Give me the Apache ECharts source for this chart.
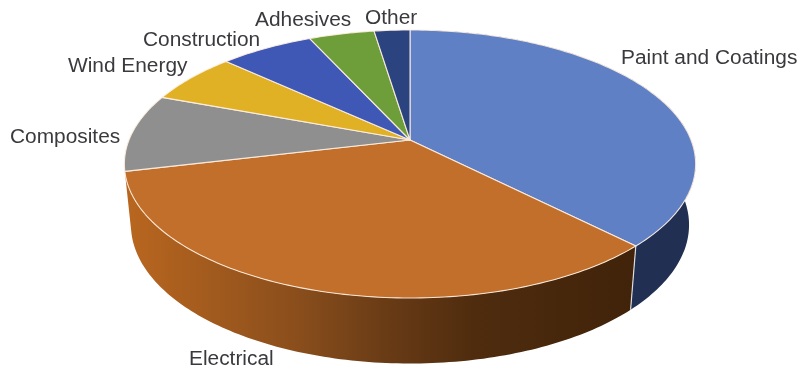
<!DOCTYPE html>
<html><head><meta charset="utf-8">
<style>html,body{margin:0;padding:0;background:#fff}#c{width:797px;height:370px;filter:blur(0.45px)}</style>
<script src="https://cdn.jsdelivr.net/npm/echarts@6/dist/echarts.min.js"></script>
</head><body><div id="c"></div>
<script>
// Data (share of the pie, percent), clockwise from the top
const categories = ['Paint and Coatings','Electrical','Composites','Wind Energy','Construction','Adhesives','Other'];
const shares = [37.6,33.6,9.4,6.2,6.3,4.4,2.4];
const topColors = ['#5F80C4','#C26F2C','#8F8F8F','#E0B025','#3F57B5','#6E9E3A','#2B4480'];
const wallColors = [
  [[0,'#1C2B49'],[1,'#202F52']],
  [[0,'#B8661F'],[0.33,'#8A4E1C'],[0.5,'#6A3C16'],[0.68,'#4F2C0E'],[1,'#40230A']],
  [[0,'#555555'],[1,'#555555']],[[0,'#806414'],[1,'#806414']],[[0,'#24326A'],[1,'#24326A']],
  [[0,'#405C22'],[1,'#405C22']],[[0,'#1A2850'],[1,'#1A2850']]
];
const labelLeft = [621,189,10,68,143,255,365];
const labelMid  = [59,360,138,67,41,21,19];

// Perspective projection of the pie's disc onto the screen
const AX=410, AY=140, RX=281, RY=129.7, K=0.179;
function rim(deg){
  const t=deg*Math.PI/180, u=Math.sin(t), v=-Math.cos(t), d=1-K*v;
  return [AX+RX*u/d, AY+RY*v/d];
}
function lower(p){ return [AX+(p[0]-AX)*0.977, p[1]+60+(p[1]-AY)*0.035]; }
const total=shares.reduce((a,b)=>a+b,0);
function bounds(i){
  let s=0; for(let k=0;k<i;k++) s+=shares[k];
  return [s/total*360,(s+shares[i])/total*360];
}
function arc(a,b){
  const pts=[], n=Math.max(4,Math.ceil((b-a)));
  for(let j=0;j<=n;j++) pts.push(rim(a+(b-a)*j/n));
  return pts;
}
const rows=categories.map((c,i)=>({name:c,value:shares[i]}));
const facesViewer=(deg)=>-Math.cos(deg*Math.PI/180)>0.3;

function renderWall(params){
  const i=params.dataIndex, [a,b]=bounds(i);
  if(!facesViewer(a)&&!facesViewer(b)&&!facesViewer((a+b)/2)) return {type:'group',children:[]};
  const top=arc(a,b), bot=top.map(lower).reverse();
  const mid=(a+b)/2*Math.PI/180;
  const children=[{type:'polygon',z2:0,shape:{points:top.concat(bot)},
    style:{fill:new echarts.graphic.LinearGradient(130,0,636,0,
      wallColors[i].map(s=>({offset:s[0],color:s[1]})),true)}}];
  if(-Math.cos(a*Math.PI/180)>0.5){
    const p=rim(a), q=lower(p);
    children.push({type:'line',z2:1,shape:{x1:p[0],y1:p[1],x2:q[0],y2:q[1]},
      style:{stroke:'rgba(255,255,255,0.8)',lineWidth:1.2}});
  }
  return {type:'group',z2:Math.round(-Math.cos(mid)*100),children};
}
function renderTop(params){
  const i=params.dataIndex,[a,b]=bounds(i);
  return {type:'polygon',shape:{points:[[AX,AY]].concat(arc(a,b))},
    style:{fill:topColors[i],stroke:'rgba(255,240,225,0.9)',lineWidth:1.1,lineJoin:'round'}};
}
function renderLabel(params){
  const i=params.dataIndex;
  return {type:'text',x:labelLeft[i],y:labelMid[i],scaleX:1.07,
    style:{text:categories[i],fill:'#3A3A3E',font:'19.5px "Liberation Sans"',align:'left',verticalAlign:'middle'}};
}
const chart=echarts.init(document.getElementById('c'),null,{renderer:'canvas'});
chart.setOption({
  animation:false,
  backgroundColor:'#fff',
  series:[
    {type:'custom',coordinateSystem:'none',silent:true,z:1,data:rows,renderItem:renderWall},
    {type:'custom',coordinateSystem:'none',silent:true,z:2,data:rows,renderItem:renderTop},
    {type:'custom',coordinateSystem:'none',silent:true,z:3,data:rows,renderItem:renderLabel}
  ]
});
</script></body></html>
